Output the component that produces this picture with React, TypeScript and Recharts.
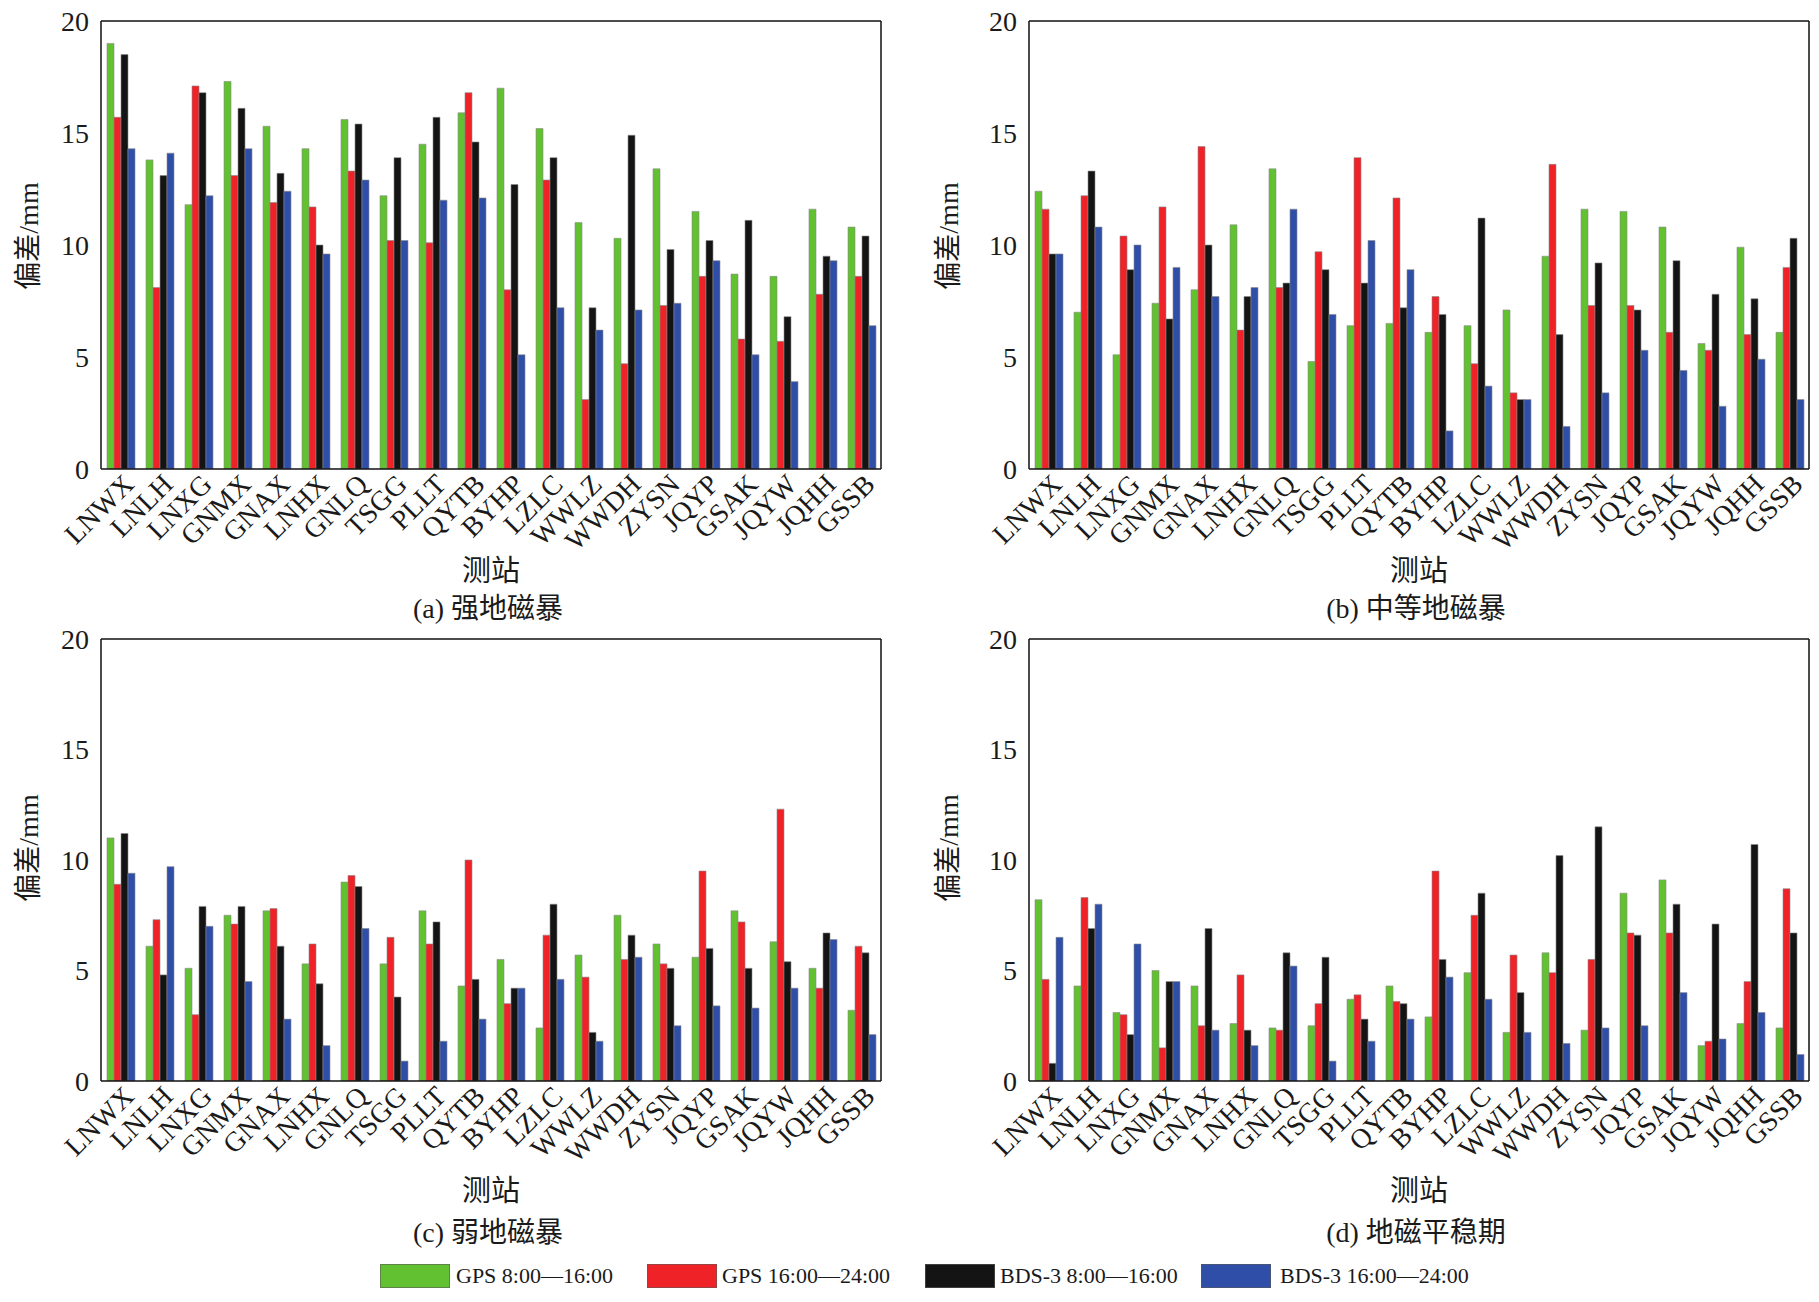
import { BarChart, Bar, XAxis, YAxis } from "recharts";

const FONT = '"Liberation Serif", "Noto Sans CJK SC", serif';

const stations = [
  "LNWX", "LNLH", "LNXG", "GNMX", "GNAX", "LNHX", "GNLQ", "TSGG", "PLLT", "QYTB",
  "BYHP", "LZLC", "WWLZ", "WWDH", "ZYSN", "JQYP", "GSAK", "JQYW", "JQHH", "GSSB",
];
const yTicks = [0, 5, 10, 15, 20];

// (a) strong storm
const strongGps1 = [19.0, 13.8, 11.8, 17.3, 15.3, 14.3, 15.6, 12.2, 14.5, 15.9, 17.0, 15.2, 11.0, 10.3, 13.4, 11.5, 8.7, 8.6, 11.6, 10.8];
const strongGps2 = [15.7, 8.1, 17.1, 13.1, 11.9, 11.7, 13.3, 10.2, 10.1, 16.8, 8.0, 12.9, 3.1, 4.7, 7.3, 8.6, 5.8, 5.7, 7.8, 8.6];
const strongBds1 = [18.5, 13.1, 16.8, 16.1, 13.2, 10.0, 15.4, 13.9, 15.7, 14.6, 12.7, 13.9, 7.2, 14.9, 9.8, 10.2, 11.1, 6.8, 9.5, 10.4];
const strongBds2 = [14.3, 14.1, 12.2, 14.3, 12.4, 9.6, 12.9, 10.2, 12.0, 12.1, 5.1, 7.2, 6.2, 7.1, 7.4, 9.3, 5.1, 3.9, 9.3, 6.4];

// (b) moderate storm
const modGps1 = [12.4, 7.0, 5.1, 7.4, 8.0, 10.9, 13.4, 4.8, 6.4, 6.5, 6.1, 6.4, 7.1, 9.5, 11.6, 11.5, 10.8, 5.6, 9.9, 6.1];
const modGps2 = [11.6, 12.2, 10.4, 11.7, 14.4, 6.2, 8.1, 9.7, 13.9, 12.1, 7.7, 4.7, 3.4, 13.6, 7.3, 7.3, 6.1, 5.3, 6.0, 9.0];
const modBds1 = [9.6, 13.3, 8.9, 6.7, 10.0, 7.7, 8.3, 8.9, 8.3, 7.2, 6.9, 11.2, 3.1, 6.0, 9.2, 7.1, 9.3, 7.8, 7.6, 10.3];
const modBds2 = [9.6, 10.8, 10.0, 9.0, 7.7, 8.1, 11.6, 6.9, 10.2, 8.9, 1.7, 3.7, 3.1, 1.9, 3.4, 5.3, 4.4, 2.8, 4.9, 3.1];

// (c) weak storm
const weakGps1 = [11.0, 6.1, 5.1, 7.5, 7.7, 5.3, 9.0, 5.3, 7.7, 4.3, 5.5, 2.4, 5.7, 7.5, 6.2, 5.6, 7.7, 6.3, 5.1, 3.2];
const weakGps2 = [8.9, 7.3, 3.0, 7.1, 7.8, 6.2, 9.3, 6.5, 6.2, 10.0, 3.5, 6.6, 4.7, 5.5, 5.3, 9.5, 7.2, 12.3, 4.2, 6.1];
const weakBds1 = [11.2, 4.8, 7.9, 7.9, 6.1, 4.4, 8.8, 3.8, 7.2, 4.6, 4.2, 8.0, 2.2, 6.6, 5.1, 6.0, 5.1, 5.4, 6.7, 5.8];
const weakBds2 = [9.4, 9.7, 7.0, 4.5, 2.8, 1.6, 6.9, 0.9, 1.8, 2.8, 4.2, 4.6, 1.8, 5.6, 2.5, 3.4, 3.3, 4.2, 6.4, 2.1];

// (d) quiet period
const quietGps1 = [8.2, 4.3, 3.1, 5.0, 4.3, 2.6, 2.4, 2.5, 3.7, 4.3, 2.9, 4.9, 2.2, 5.8, 2.3, 8.5, 9.1, 1.6, 2.6, 2.4];
const quietGps2 = [4.6, 8.3, 3.0, 1.5, 2.5, 4.8, 2.3, 3.5, 3.9, 3.6, 9.5, 7.5, 5.7, 4.9, 5.5, 6.7, 6.7, 1.8, 4.5, 8.7];
const quietBds1 = [0.8, 6.9, 2.1, 4.5, 6.9, 2.3, 5.8, 5.6, 2.8, 3.5, 5.5, 8.5, 4.0, 10.2, 11.5, 6.6, 8.0, 7.1, 10.7, 6.7];
const quietBds2 = [6.5, 8.0, 6.2, 4.5, 2.3, 1.6, 5.2, 0.9, 1.8, 2.8, 4.7, 3.7, 2.2, 1.7, 2.4, 2.5, 4.0, 1.9, 3.1, 1.2];

const seriesNames = ["GPS 8:00—16:00", "GPS 16:00—24:00", "BDS-3 8:00—16:00", "BDS-3 16:00—24:00"];
const seriesKeys = ["gps1", "gps2", "bds1", "bds2"];
const colors = ["#62c130", "#ee2227", "#141414", "#2f4ea8"];

const toRows = (a: number[], b: number[], c: number[], d: number[]) =>
  stations.map((station, i) => ({ station, gps1: a[i], gps2: b[i], bds1: c[i], bds2: d[i] }));

const axisStroke = { stroke: "#111", strokeWidth: 1.5 };

function StationTick(props: any) {
  const { x, y, payload } = props;
  return (
    <text
      transform={`translate(${x + 15},${y + 17}) rotate(-45)`}
      textAnchor="end"
      fontFamily={FONT}
      fontSize={28}
      fill="#1a1a1a"
    >
      {payload.value}
    </text>
  );
}

interface PanelProps {
  rows: ReturnType<typeof toRows>;
  left: number;
  top: number;
  width: number;
  height: number;
  plotLeft: number;
  plotRight: number;
  plotTop: number;
  plotBottom: number;
  topTicks: boolean;
}

function Panel({ rows, left, top, width, height, plotLeft, plotRight, plotTop, plotBottom, topTicks }: PanelProps) {
  return (
    <div style={{ position: "absolute", left, top }}>
      <BarChart
        width={width}
        height={height}
        data={rows}
        margin={{ top: plotTop, right: width - plotRight, left: 0, bottom: 0 }}
        barSize={7}
        barGap={0}
      >
        <XAxis
          xAxisId="b"
          dataKey="station"
          interval={0}
          height={height - plotBottom}
          tick={<StationTick />}
          tickLine={false}
          tickSize={0}
          tickMargin={0}
          axisLine={axisStroke}
        />
        <XAxis
          xAxisId="t"
          dataKey="station"
          orientation="top"
          mirror
          interval={0}
          tick={false}
          tickSize={7}
          tickLine={topTicks ? { stroke: "#111", strokeWidth: 1.2 } : false}
          axisLine={axisStroke}
        />
        <YAxis
          yAxisId="l"
          type="number"
          domain={[0, 20]}
          ticks={yTicks}
          allowDataOverflow
          width={plotLeft}
          tickLine={false}
          tickSize={0}
          tickMargin={12}
          tick={{ fontSize: 28, fill: "#1a1a1a", fontFamily: FONT }}
          axisLine={axisStroke}
        />
        <YAxis
          yAxisId="lm"
          type="number"
          domain={[0, 20]}
          ticks={yTicks}
          allowDataOverflow
          mirror
          tick={false}
          tickSize={7}
          tickLine={{ stroke: "#111", strokeWidth: 1.2 }}
          axisLine={false}
        />
        <YAxis
          yAxisId="r"
          type="number"
          orientation="right"
          domain={[0, 20]}
          ticks={yTicks}
          allowDataOverflow
          mirror
          tick={false}
          tickSize={7}
          tickLine={{ stroke: "#111", strokeWidth: 1.2 }}
          axisLine={axisStroke}
        />
        {seriesKeys.map((key, i) => (
          <Bar
            key={key}
            dataKey={key}
            name={seriesNames[i]}
            xAxisId="b"
            yAxisId="l"
            fill={colors[i]}
            stroke="#8a8a8a"
            strokeWidth={0.6}
            isAnimationActive={false}
          />
        ))}
      </BarChart>
    </div>
  );
}

const textBase = {
  position: "absolute" as const,
  whiteSpace: "nowrap" as const,
  fontFamily: FONT,
  color: "#1a1a1a",
  lineHeight: 1,
};

function Centered({ x, y, size, children, rotate }: { x: number; y: number; size: number; children: any; rotate?: boolean }) {
  return (
    <div
      style={{
        ...textBase,
        left: x,
        top: y,
        fontSize: size,
        transform: `translate(-50%, -50%)${rotate ? " rotate(-90deg)" : ""}`,
      }}
    >
      {children}
    </div>
  );
}

const legendSwatchX = [380, 647, 925, 1201];
const legendTextX = [456, 722, 1000, 1280];

export default function App() {
  const strongRows = toRows(strongGps1, strongGps2, strongBds1, strongBds2);
  const modRows = toRows(modGps1, modGps2, modBds1, modBds2);
  const weakRows = toRows(weakGps1, weakGps2, weakBds1, weakBds2);
  const quietRows = toRows(quietGps1, quietGps2, quietBds1, quietBds2);

  return (
    <div style={{ position: "absolute", left: 0, top: 0, width: 1819, height: 1302, background: "#fff", overflow: "hidden" }}>
      <Panel rows={strongRows} left={0} top={0} width={910} height={600} plotLeft={101} plotRight={881} plotTop={21} plotBottom={469} topTicks={false} />
      <Panel rows={modRows} left={910} top={0} width={909} height={600} plotLeft={119} plotRight={899} plotTop={21} plotBottom={469} topTicks={false} />
      <Panel rows={weakRows} left={0} top={620} width={910} height={600} plotLeft={101} plotRight={881} plotTop={19} plotBottom={461} topTicks={true} />
      <Panel rows={quietRows} left={910} top={620} width={909} height={600} plotLeft={119} plotRight={899} plotTop={19} plotBottom={461} topTicks={true} />

      <Centered x={29} y={236} size={28} rotate>偏差/mm</Centered>
      <Centered x={949} y={236} size={28} rotate>偏差/mm</Centered>
      <Centered x={29} y={848} size={28} rotate>偏差/mm</Centered>
      <Centered x={949} y={848} size={28} rotate>偏差/mm</Centered>

      <Centered x={491} y={571} size={29}>测站</Centered>
      <Centered x={1419} y={571} size={29}>测站</Centered>
      <Centered x={491} y={1191} size={29}>测站</Centered>
      <Centered x={1419} y={1191} size={29}>测站</Centered>

      <Centered x={488} y={609} size={28}>(a) 强地磁暴</Centered>
      <Centered x={1416} y={609} size={28}>(b) 中等地磁暴</Centered>
      <Centered x={488} y={1233} size={28}>(c) 弱地磁暴</Centered>
      <Centered x={1416} y={1233} size={28}>(d) 地磁平稳期</Centered>

      {seriesNames.map((name, i) => (
        <div key={name}>
          <div
            style={{
              position: "absolute",
              left: legendSwatchX[i],
              top: 1264,
              width: 70,
              height: 24,
              background: colors[i],
              boxShadow: "inset 0 0 0 1px rgba(90,90,90,0.6)",
            }}
          />
          <div style={{ ...textBase, left: legendTextX[i], top: 1276, fontSize: 22, transform: "translateY(-50%)" }}>{name}</div>
        </div>
      ))}
    </div>
  );
}
